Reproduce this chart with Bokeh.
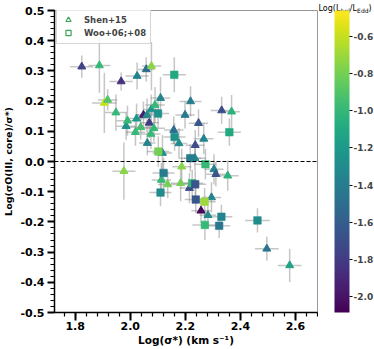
from bokeh.plotting import figure
from bokeh.layouts import row
from bokeh.models import (ColumnDataSource, LinearColorMapper, ColorBar, Span, Legend,
                          LegendItem, SingleIntervalTicker, FixedTicker, CustomJSTickFormatter, Range1d)
from bokeh.core.properties import value
from bokeh.palettes import Viridis256
from bokeh.transform import transform
from bokeh.embed import file_html
from bokeh.resources import INLINE

# ---------------- data ----------------
shen_x = [1.824, 1.888, 1.967, 2.025, 2.058, 2.077, 1.906, 1.918, 1.948, 1.985, 1.990, 2.023,
          2.038, 2.019, 2.048, 2.061, 2.069, 2.076, 2.090, 2.110, 2.086, 2.075, 2.062, 2.117,
          2.158, 2.177, 2.199, 2.219, 2.248, 2.332, 2.368, 2.267, 2.236, 2.235, 1.977, 2.187,
          2.304, 2.311, 2.354, 2.113, 2.136, 2.183, 2.215, 2.295, 2.257, 2.282, 2.496, 2.579]
shen_y = [0.314, 0.318, 0.265, 0.283, 0.305, 0.316, 0.194, 0.204, 0.162, 0.117, 0.135, 0.142,
          0.113, 0.097, 0.154, 0.154, 0.128, 0.172, 0.187, 0.210, 0.110, 0.091, 0.061, 0.028,
          0.104, 0.060, 0.154, 0.199, 0.127, 0.169, 0.165, 0.075, 0.054, 0.011, -0.032, -0.017,
          -0.026, -0.042, -0.047, -0.061, -0.076, -0.072, -0.088, -0.119, -0.163, -0.178, -0.289, -0.344]
shen_c = [-1.75, -1.00, -1.85, -1.35, -1.50, -0.75, -0.60, -0.90, -1.00, -1.25, -1.00, -1.20,
          -0.95, -1.00, -1.95, -1.30, -1.80, -1.25, -1.00, -1.35, -1.00, -1.00, -1.35, -1.30,
          -1.50, -1.30, -1.40, -1.40, -1.65, -1.70, -1.05, -1.35, -1.70, -1.35, -0.75, -0.75,
          -1.35, -1.65, -1.05, -1.00, -0.80, -0.80, -1.70, -1.35, -2.05, -1.30, -1.45, -1.15]
shen_xerr = [0.042, 0.040, 0.042, 0.042, 0.030, 0.035, 0.045, 0.035, 0.040, 0.035, 0.040, 0.035,
             0.040, 0.035, 0.030, 0.035, 0.035, 0.030, 0.035, 0.035, 0.040, 0.035, 0.030, 0.035,
             0.035, 0.030, 0.035, 0.040, 0.035, 0.040, 0.030, 0.035, 0.035, 0.040, 0.042, 0.035,
             0.035, 0.035, 0.040, 0.035, 0.035, 0.035, 0.035, 0.035, 0.035, 0.030, 0.043, 0.043]
shen_yerr = [0.037, 0.090, 0.030, 0.045, 0.040, 0.080, 0.100, 0.035, 0.060, 0.045, 0.050, 0.050,
             0.040, 0.045, 0.045, 0.055, 0.050, 0.050, 0.060, 0.070, 0.045, 0.050, 0.040, 0.060,
             0.045, 0.050, 0.045, 0.050, 0.045, 0.045, 0.055, 0.050, 0.050, 0.040, 0.095, 0.060,
             0.050, 0.040, 0.050, 0.055, 0.045, 0.060, 0.050, 0.050, 0.040, 0.040, 0.040, 0.055]

woo_x = [2.160, 2.101, 2.102, 2.161, 2.218, 2.360, 2.273, 2.121, 2.110, 2.225, 2.236, 2.238,
         2.270, 2.331, 2.271, 2.323, 2.462]
woo_y = [0.287, 0.159, 0.033, 0.081, 0.011, 0.097, -0.009, -0.038, -0.103, -0.072, -0.075, -0.126,
         -0.133, -0.183, -0.210, -0.213, -0.195]
woo_c = [-1.10, -1.25, -0.80, -1.25, -1.40, -1.10, -1.00, -1.40, -1.30, -1.00, -1.65, -1.65,
         -0.70, -1.35, -1.00, -1.45, -1.30]
woo_xerr = [0.042, 0.040, 0.040, 0.040, 0.040, 0.042, 0.040, 0.040, 0.040, 0.040, 0.040, 0.040,
            0.040, 0.040, 0.045, 0.040, 0.045]
woo_yerr = [0.058, 0.050, 0.050, 0.045, 0.045, 0.045, 0.050, 0.050, 0.045, 0.045, 0.045, 0.045,
            0.045, 0.040, 0.050, 0.040, 0.040]

x_ticks_interval = 0.2
y_ticks_interval = 0.1
cbar_ticks = [-2.0, -1.8, -1.6, -1.4, -1.2, -1.0, -0.8, -0.6]
c_low, c_high = -2.084, -0.462
x_label = "Log(σ*) (km s\u207b\u00b9)"
y_label = "Log(σO(III, core)/σ*)"

FONT = "DejaVu Sans"
X0, X1, Y0, Y1 = 1.725, 2.68, -0.5, 0.5

# layout geometry (px): main plot | colour-bar column
W_MAIN, W_CB = 318, 56
H = 349
LEFT, FW, FH, TOP = 50, 267, 302, 10


def no_align(f):
    try:
        f.frame_align = False
    except Exception:
        pass
    return f


def src(x, y, c, xe, ye):
    return ColumnDataSource(dict(
        x=x, y=y, c=c,
        x0=[a - e for a, e in zip(x, xe)], x1=[a + e for a, e in zip(x, xe)],
        y0=[a - e for a, e in zip(y, ye)], y1=[a + e for a, e in zip(y, ye)]))


shen = src(shen_x, shen_y, shen_c, shen_xerr, shen_yerr)
woo = src(woo_x, woo_y, woo_c, woo_xerr, woo_yerr)

mapper = LinearColorMapper(palette=Viridis256, low=c_low, high=c_high)
fmt = CustomJSTickFormatter(code="return (Math.abs(tick) < 1e-9 ? 0 : tick).toFixed(1);")

# ---------------- main plot ----------------
p = figure(width=W_MAIN, height=H, output_backend="svg", toolbar_location=None,
           x_range=Range1d(X0, X1), y_range=Range1d(Y0, Y1),
           min_border_left=LEFT, min_border_right=W_MAIN - LEFT - FW, min_border_top=TOP,
           min_border_bottom=H - FH - TOP)
no_align(p)
p.grid.visible = False
p.outline_line_color = "#999999"
p.outline_line_width = 1
p.background_fill_color = "white"

p.xaxis.ticker = SingleIntervalTicker(interval=x_ticks_interval, num_minor_ticks=5)
p.yaxis.ticker = SingleIntervalTicker(interval=y_ticks_interval, num_minor_ticks=5)
p.xaxis.formatter = fmt
p.yaxis.formatter = fmt
for ax in (p.xaxis, p.yaxis):
    ax.axis_line_width = 1.5
    ax.axis_line_color = "black"
    ax.major_tick_in = 0
    ax.minor_tick_in = 0
    ax.major_tick_line_width = 2
    ax.minor_tick_line_width = 1.2
    ax.major_label_text_font = FONT
    ax.major_label_text_font_style = "bold"
    ax.major_label_text_font_size = "11px"
    ax.major_label_text_color = "black"
    ax.axis_label_text_font = FONT
    ax.axis_label_text_font_style = "bold"
    ax.axis_label_text_color = "black"
p.xaxis.axis_label = x_label
p.xaxis.axis_label_text_font_size = "10.5px"
p.xaxis.axis_label_standoff = 1
p.xaxis.major_tick_out = 8
p.xaxis.minor_tick_out = 4
p.xaxis.major_label_standoff = 1
p.yaxis.axis_label = y_label
p.yaxis.axis_label_text_font_size = "9.5px"
p.yaxis.axis_label_standoff = 3
p.yaxis.major_tick_out = 7
p.yaxis.minor_tick_out = 4
p.yaxis.major_label_standoff = 3

p.add_layout(Span(location=0, dimension="width", line_color="black", line_dash="4 2", line_width=1.2))

for s in (shen, woo):
    p.segment(x0="x0", y0="y", x1="x1", y1="y", source=s, line_color="grey", line_alpha=0.45, line_width=1.5)
    p.segment(x0="x", y0="y0", x1="x", y1="y1", source=s, line_color="grey", line_alpha=0.45, line_width=1.5)

col = transform("c", mapper)
p.scatter("x", "y", source=shen, marker="triangle", size=8, fill_color=col, line_color=col, line_width=1)
p.scatter("x", "y", source=woo, marker="square", size=7.5, fill_color=col, line_color=col,
          line_alpha=0.6, line_width=1)

# legend: hidden proxy renderers carrying hollow green markers
proxy_tri = ColumnDataSource(dict(x=shen_x[:1], y=shen_y[:1]))
proxy_sq = ColumnDataSource(dict(x=woo_x[:1], y=woo_y[:1]))
leg_tri = p.scatter("x", "y", source=proxy_tri, marker="triangle", size=8,
                    fill_color=None, line_color="#3aa655", line_width=1.2, visible=False)
leg_sq = p.scatter("x", "y", source=proxy_sq, marker="square", size=8,
                   fill_color=None, line_color="#3aa655", line_width=1.2, visible=False)
legend = Legend(items=[LegendItem(label="Shen+15", renderers=[leg_tri]),
                       LegendItem(label="Woo+06;+08", renderers=[leg_sq])],
                location=(2, 268), padding=4, margin=0, spacing=0, glyph_width=14, glyph_height=13,
                label_standoff=9, label_height=12,
                label_text_font=FONT, label_text_font_style="bold", label_text_font_size="8.5px",
                border_line_color="#cccccc", border_line_alpha=0.8, background_fill_alpha=0.8)
p.add_layout(legend)


# ---------------- colour-bar column ----------------
cbf = figure(width=W_CB, height=H, output_backend="svg", toolbar_location=None,
             x_range=Range1d(0, W_CB), y_range=Range1d(0, H), min_border=0,
             x_axis_location=None, y_axis_location=None)
no_align(cbf)
cbf.grid.visible = False
cbf.outline_line_color = None
cbf.background_fill_color = "white"
cbf.border_fill_color = "white"


def txt(f, s, x, y, size, bold=True, angle=0.0):
    f.text(x=[x], y=[y], text=[s], angle=angle, text_font=value(FONT), text_font_size=value(size),
           text_font_style=value("bold" if bold else "normal"), text_color="black",
           text_align="left", text_baseline="alphabetic")


cb = ColorBar(color_mapper=mapper, width=15, height=FH, location=(16, H - FH - TOP), padding=0, margin=0,
              ticker=FixedTicker(ticks=cbar_ticks), formatter=fmt,
              major_label_text_font=FONT, major_label_text_font_style="bold",
              major_label_text_font_size="9px", major_tick_in=0, major_tick_out=3,
              major_tick_line_color="black", label_standoff=1, bar_line_color=None,
              background_fill_alpha=0, border_line_color=None)
cbf.add_layout(cb)
ty = H - 8
txt(cbf, "Log(L", 0, ty, "8px", bold=False)
txt(cbf, "bol", 22.2, ty - 2, "6px", bold=False)
txt(cbf, "/L", 31.3, ty, "8px", bold=False)
txt(cbf, "Edd", 38.6, ty - 2, "6px", bold=False)
txt(cbf, ")", 50, ty, "8px", bold=False)

layout = row(p, cbf, spacing=0)
open("out.html", "w").write(file_html(layout, INLINE))
